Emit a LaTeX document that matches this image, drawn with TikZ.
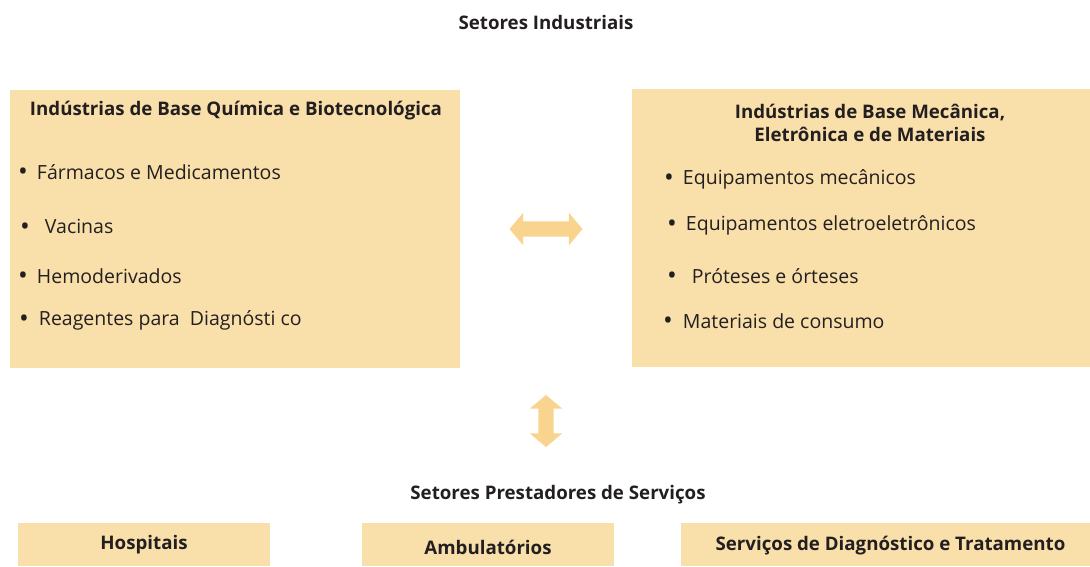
\documentclass[tikz,border=0pt]{standalone}
\usepackage{fontspec}
\setmainfont{Open Sans}
\usetikzlibrary{positioning, shapes.arrows}
\definecolor{boxtan}{HTML}{F9DFAA}
\definecolor{arrowtan}{HTML}{F8D48E}
\definecolor{inkdark}{HTML}{231F20}
\newcommand{\itemdot}{{\fontsize{26}{20}\selectfont\raisebox{-1.5pt}{•}}}
\tikzset{
  panel/.style={fill=boxtan, inner sep=0pt},
  heading/.style={font=\fontsize{18.7}{23}\selectfont\bfseries, align=center, text=inkdark, inner sep=0pt},
  item/.style={anchor=west, font=\fontsize{19.5}{22}\selectfont, text=inkdark, inner sep=0pt},
  link/.style={double arrow, fill=arrowtan, inner xsep=0pt, inner ysep=7.5pt, minimum width=0pt,
    double arrow head extend=8.5pt, double arrow tip angle=100}
}
\begin{document}
\begin{tikzpicture}[x=1pt, y=-1pt]
\useasboundingbox (0,0) rectangle (1090,566);

\node[heading] (top) at (546,22) {Setores Industriais};

% industry panels
\node[panel, minimum width=450pt, minimum height=278pt] (chem) at (235,229) {};
\node[panel, minimum width=458pt, minimum height=278pt] (mech) at (861,228) {};
\node[heading] (chemtitle) at (236,111) {Indústrias de Base Química e Biotecnológica};
\node[heading] (mechtitle) at (870,123) {Indústrias de Base Mecânica,\\ Eletrônica e de Materiais};

\node[item] (c1) at (18,172.5) {\itemdot\hspace{9pt}Fármacos e Medicamentos};
\node[item] (c2) at (20,227.5) {\itemdot\hspace{15pt}Vacinas};
\node[item] (c3) at (18,276.5) {\itemdot\hspace{9pt}Hemoderivados};
\node[item] (c4) at (19,320.5) {\itemdot\hspace{10pt}Reagentes para\ \ Diagnósti co};

\node[item] (m1) at (664,179.5) {\itemdot\hspace{9pt}Equipamentos mecânicos};
\node[item] (m2) at (667,225.5) {\itemdot\hspace{9pt}Equipamentos eletroeletrônicos};
\node[item] (m3) at (667,276.5) {\itemdot\hspace{15pt}Próteses e órteses};
\node[item] (m4) at (663,321.5) {\itemdot\hspace{10pt}Materiais de consumo};

% links
\node[link, minimum height=73pt] (across) at (546,229) {};
\node[link, minimum height=52pt, rotate=90] (down) at (546,421) {};

% service sectors
\node[heading] (bottom) at (558,495) {Setores Prestadores de Serviços};
\node[panel, minimum width=252pt, minimum height=43pt] (hosp) at (144,544.5) {};
\node[panel, minimum width=252pt, minimum height=43pt] (amb) at (488,544.5) {};
\node[panel, minimum width=409pt, minimum height=43pt] (serv) at (885.5,544.5) {};
\node[heading] at (hosp) {Hospitais};
\node[heading] at ([yshift=-3pt]amb.center) {Ambulatórios};
\node[heading] at ([xshift=5pt, yshift=-1.5pt]serv.center) {Serviços de Diagnóstico e Tratamento};
\end{tikzpicture}
\end{document}
